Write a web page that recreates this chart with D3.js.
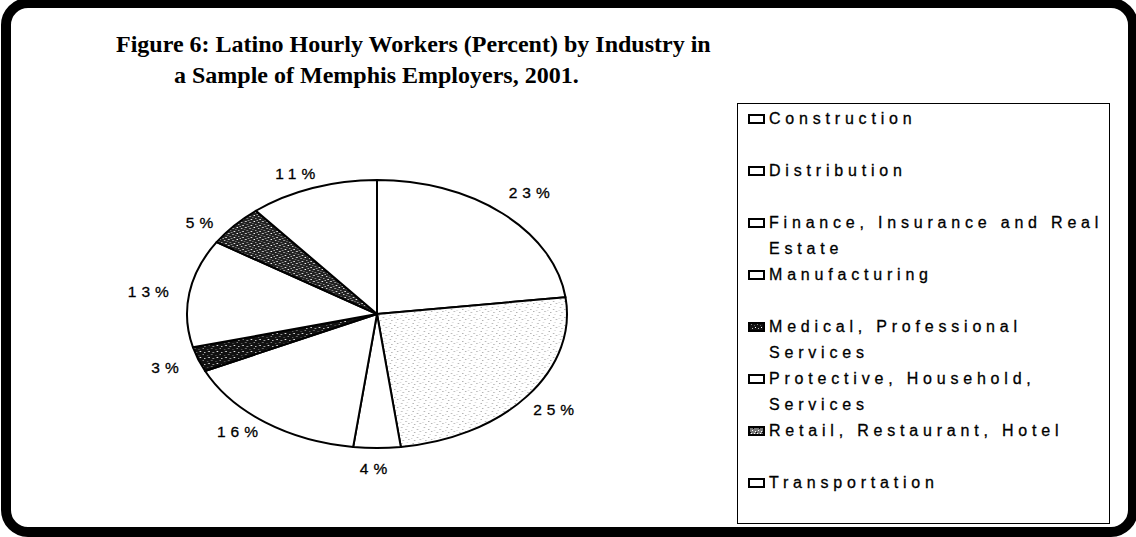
<!DOCTYPE html>
<html lang="en">
<head>
<meta charset="UTF-8" />
<title>Figure 6: Latino Hourly Workers by Industry</title>
<script src="https://d3js.org/d3.v7.min.js"></script>
<style>
    body { margin: 0; background: #fff; }
    svg text { font-family: "Liberation Sans", Arial, sans-serif; fill: #000; }
    .title { font-family: "Liberation Serif", "Times New Roman", serif; font-weight: bold; font-size: 24px; }
    .pct, .item text { stroke: #000; stroke-width: 0.3px; }
</style>
</head>
<body>
<div id="chart"></div>
<script>
// data
const industries = ["Construction", "Distribution", "Finance, Insurance and Real Estate", "Manufacturing",
    "Medical, Professional Services", "Protective, Household, Services", "Retail, Restaurant, Hotel", "Transportation"];
const shares = [23, 25, 4, 16, 3, 13, 5, 11];
const legendLines = [["Construction"], ["Distribution"], ["Finance, Insurance and Real", "Estate"], ["Manufacturing"],
    ["Medical, Professional", "Services"], ["Protective, Household,", "Services"], ["Retail, Restaurant, Hotel"], ["Transportation"]];
const titleLines = ["Figure 6: Latino Hourly Workers (Percent) by Industry in", "a Sample of Memphis Employers, 2001."];

// styles
const sliceFill = ["#fff", "url(#speckLight)", "#fff", "#fff", "url(#speckDark)", "#fff", "url(#speckMid)", "#fff"];
const swatchFill = ["#fff", "#fff", "#fff", "#fff", "url(#speckDark)", "#fff", "url(#speckSwatch)", "#fff"];
// small label nudges to imitate the original placement
const labelNudge = [[4, -1], [-1, -3], [-1, -6], [-3, -13], [5, -1], [-1, 3], [-4, 15], [-2, 11]];

const W = 1136, H = 537;
const svg = d3.select("#chart").append("svg").attr("width", W).attr("height", H);

// patterns
const defs = svg.append("defs");
function speck(id, bg, dotColor, dots, size) {
    const p = defs.append("pattern").attr("id", id).attr("patternUnits", "userSpaceOnUse")
        .attr("width", size).attr("height", size);
    p.append("rect").attr("width", size).attr("height", size).attr("fill", bg);
    dots.forEach(([x, y, c]) => p.append("rect").attr("x", x).attr("y", y).attr("width", 1).attr("height", 1)
        .attr("fill", c || dotColor));
}
speck("speckLight", "#fff", "#b0b0b0", [[1, 1], [4, 3], [2, 6], [6, 5], [5, 0, "#d8d8d8"], [0, 4, "#d8d8d8"]], 8);
speck("speckDark", "#111", "#fff", [[1, 1], [3, 4, "#888"], [4, 2, "#bbb"], [0, 5, "#555"]], 6);
speck("speckMid", "#222", "#fff", [[1, 1], [3, 3], [4, 0, "#999"], [0, 4, "#ccc"], [2, 5, "#777"], [5, 2, "#aaa"]], 6);
speck("speckSwatch", "#777", "#fff", [[1, 1], [3, 3], [0, 3], [4, 0], [2, 2, "#000"], [5, 4, "#000"]], 6);

// frame
svg.append("rect")
    .attr("x", 6).attr("y", 3).attr("width", 1127).attr("height", 529)
    .attr("rx", 22).attr("fill", "none").attr("stroke", "#000").attr("stroke-width", 10);

// title
svg.selectAll("text.title").data(titleLines).join("text")
    .attr("class", "title")
    .attr("x", (d, i) => i === 0 ? 116 : 174)
    .attr("y", (d, i) => 52 + i * 31)
    .text(d => d);

// pie, drawn as a circle then stretched into an ellipse
const cx = 377, cy = 314, rx = 190, ry = 134;
const pie = d3.pie().sort(null).value(d => d)(shares);
const arc = d3.arc().innerRadius(0).outerRadius(ry);

const pieG = svg.append("g").attr("transform", `translate(${cx},${cy}) scale(${rx / ry},1)`);
pieG.selectAll("path").data(pie).join("path")
    .attr("d", arc)
    .attr("fill", (d, i) => sliceFill[i])
    .attr("stroke", "#000")
    .attr("stroke-width", 2)
    .attr("stroke-linejoin", "round")
    .attr("vector-effect", "non-scaling-stroke");

// percent labels
const labelR = 1.2;
svg.selectAll("text.pct").data(pie).join("text")
    .attr("class", "pct")
    .attr("x", (d, i) => cx + rx * labelR * Math.sin((d.startAngle + d.endAngle) / 2) + labelNudge[i][0])
    .attr("y", (d, i) => cy - ry * labelR * Math.cos((d.startAngle + d.endAngle) / 2) + labelNudge[i][1])
    .attr("text-anchor", "middle")
    .attr("dominant-baseline", "central")
    .style("font-size", "15.5px")
    .style("letter-spacing", "5px")
    .text(d => d.data + "%");

// legend
const legend = svg.append("g");
legend.append("rect")
    .attr("x", 737.5).attr("y", 103.5).attr("width", 372).attr("height", 420)
    .attr("fill", "#fff").attr("stroke", "#000").attr("stroke-width", 1);

const item = legend.selectAll("g.item").data(industries).join("g")
    .attr("class", "item")
    .attr("transform", (d, i) => `translate(748,${124 + i * 52})`);

item.append("rect")
    .attr("x", 1).attr("y", -9).attr("width", 15).attr("height", 8)
    .attr("fill", (d, i) => swatchFill[i])
    .attr("stroke", "#000").attr("stroke-width", 2);

item.append("text")
    .attr("x", 21).attr("y", 0)
    .style("font-size", "16px")
    .style("letter-spacing", "4.8px")
    .selectAll("tspan").data((d, i) => legendLines[i]).join("tspan")
    .attr("x", 21).attr("dy", (d, j) => j === 0 ? 0 : 26)
    .text(d => d);
</script>
</body>
</html>
